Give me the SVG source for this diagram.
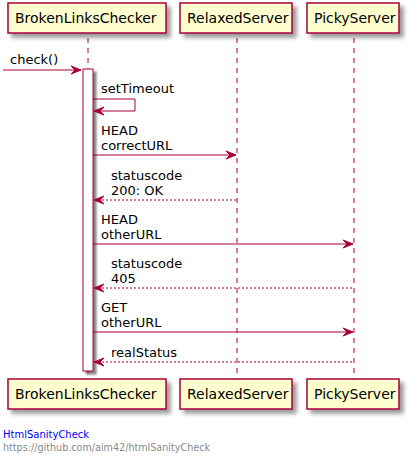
<svg xmlns="http://www.w3.org/2000/svg" width="409" height="463" viewBox="0 0 409 463">
<defs>
<filter id="sh" x="-10%" y="-20%" width="130%" height="160%">
<feGaussianBlur in="SourceAlpha" stdDeviation="2"/>
<feOffset dx="4" dy="4" result="b"/>
<feComponentTransfer><feFuncA type="linear" slope="0.4"/></feComponentTransfer>
<feMerge><feMergeNode/><feMergeNode in="SourceGraphic"/></feMerge>
</filter>
<filter id="sh2" x="-50%" y="-5%" width="200%" height="110%">
<feGaussianBlur in="SourceAlpha" stdDeviation="1"/>
<feOffset dx="3" dy="3" result="b"/>
<feComponentTransfer><feFuncA type="linear" slope="0.5"/></feComponentTransfer>
<feMerge><feMergeNode/><feMergeNode in="SourceGraphic"/></feMerge>
</filter>
</defs>
<style>
.box{fill:#FEFECE;stroke:#A80036;stroke-width:1.5;filter:url(#sh)}
.pt{font-family:"DejaVu Sans",sans-serif;font-size:14px;fill:#000}
.life{stroke:#A80036;stroke-width:1;stroke-dasharray:5,5;fill:none}
.msg{stroke:#A80036;stroke-width:1;fill:none}
.ret{stroke:#A80036;stroke-width:1;fill:none;stroke-dasharray:2,2}
.ah{fill:#A80036;stroke:#A80036;stroke-width:1}
.mt{font-family:"DejaVu Sans",sans-serif;font-size:13px;fill:#000}
</style>
<rect width="409" height="463" fill="#FFFFFF"/>
<g id="lifelines">
<line class="life" x1="88" y1="38" x2="88" y2="379"/>
<line class="life" x1="237" y1="38" x2="237" y2="379"/>
<line class="life" x1="354" y1="38" x2="354" y2="379"/>
</g>
<g id="activation">
<rect x="83" y="69" width="10" height="302" fill="#FFFFFF" stroke="#A80036" stroke-width="1" filter="url(#sh2)"/>
</g>
<g id="BrokenLinksChecker">
<rect class="box" x="8" y="3" width="158" height="30"/>
<text class="pt" x="15" y="23">BrokenLinksChecker</text>
<rect class="box" x="8" y="379" width="158" height="30"/>
<text class="pt" x="15" y="399">BrokenLinksChecker</text>
</g>
<g id="RelaxedServer">
<rect class="box" x="180" y="3" width="112" height="30"/>
<text class="pt" x="187" y="23">RelaxedServer</text>
<rect class="box" x="180" y="379" width="112" height="30"/>
<text class="pt" x="187" y="399">RelaxedServer</text>
</g>
<g id="PickyServer">
<rect class="box" x="307" y="3" width="92" height="30"/>
<text class="pt" x="314" y="23">PickyServer</text>
<rect class="box" x="307" y="379" width="92" height="30"/>
<text class="pt" x="314" y="399">PickyServer</text>
</g>
<g id="connectors">
<line class="msg" x1="3" y1="70" x2="81" y2="70"/>
<polygon class="ah" points="71,66 81,70 71,74 75,70"/>
<text class="mt" x="10" y="64">check()</text>

<polyline class="msg" points="93,99 135,99 135,111 94,111"/>
<polygon class="ah" points="104,107 94,111 104,115 100,111"/>
<text class="mt" x="101" y="93">setTimeout</text>

<line class="msg" x1="93" y1="155" x2="236" y2="155"/>
<polygon class="ah" points="226,151 236,155 226,159 230,155"/>
<text class="mt" x="101" y="135">HEAD</text>
<text class="mt" x="101" y="150">correctURL</text>

<line class="ret" x1="94" y1="200" x2="237" y2="200"/>
<polygon class="ah" points="104,196 94,200 104,204 100,200"/>
<text class="mt" x="111" y="180">statuscode</text>
<text class="mt" x="111" y="195">200: OK</text>

<line class="msg" x1="93" y1="244" x2="353" y2="244"/>
<polygon class="ah" points="343,240 353,244 343,248 347,244"/>
<text class="mt" x="101" y="224">HEAD</text>
<text class="mt" x="101" y="239">otherURL</text>

<line class="ret" x1="94" y1="288" x2="354" y2="288"/>
<polygon class="ah" points="104,284 94,288 104,292 100,288"/>
<text class="mt" x="111" y="268">statuscode</text>
<text class="mt" x="111" y="283">405</text>

<line class="msg" x1="93" y1="332" x2="353" y2="332"/>
<polygon class="ah" points="343,328 353,332 343,336 347,332"/>
<text class="mt" x="101" y="312">GET</text>
<text class="mt" x="101" y="327">otherURL</text>

<line class="ret" x1="94" y1="362" x2="354" y2="362"/>
<polygon class="ah" points="104,358 94,362 104,366 100,362"/>
<text class="mt" x="111" y="357">realStatus</text>
</g>
<g id="footer">
<text x="3" y="438" font-family="DejaVu Sans, sans-serif" font-size="10" fill="#0000FF">HtmlSanityCheck</text>
<text x="3" y="451" font-family="DejaVu Sans, sans-serif" font-size="10" fill="#888888" textLength="207" lengthAdjust="spacingAndGlyphs">https://github.com/aim42/htmlSanityCheck</text>
</g>
</svg>
